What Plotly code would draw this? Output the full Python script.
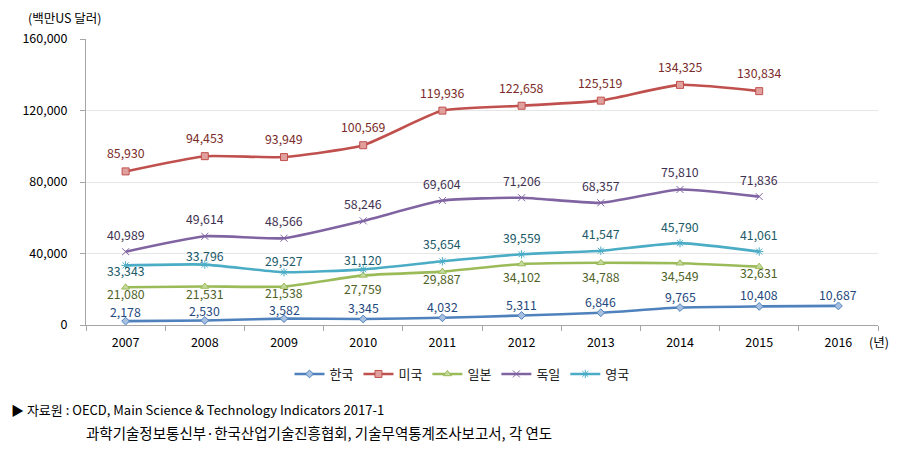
import plotly.graph_objects as go

years = ["2007", "2008", "2009", "2010", "2011", "2012", "2013", "2014", "2015", "2016"]
korea = [2178, 2530, 3582, 3345, 4032, 5311, 6846, 9765, 10408, 10687]
usa = [85930, 94453, 93949, 100569, 119936, 122658, 125519, 134325, 130834, None]
japan = [21080, 21531, 21538, 27759, 29887, 34102, 34788, 34549, 32631, None]
germany = [40989, 49614, 48566, 58246, 69604, 71206, 68357, 75810, 71836, None]
uk = [33343, 33796, 29527, 31120, 35654, 39559, 41547, 45790, 41061, None]

names = ["한국", "미국", "일본", "독일", "영국"]
series = [korea, usa, japan, germany, uk]

# styles
colors = ["#4F81BD", "#C0504D", "#9BBB59", "#8064A2", "#4BACC6"]
text_colors = ["#1F497D", "#7B2C2A", "#4F6228", "#3F3151", "#215968"]
symbols = ["diamond", "square", "triangle-up", "x-thin-open", "asterisk-open"]
marker_fill = ["#A7C0E0", "#E0A09E", "#C5DA9E", "#8064A2", "#4BACC6"]
marker_size = [6, 7, 7, 7, 7]
# label vertical offsets in pixels (positive = upward)
label_shift = [
    [9, 9, 9, 11, 11, 11, 11, 11, 11, 11],
    [18] * 10,
    [-7, -7, -6, -14, -7, -13, -14, -13, -6, 0],
    [17] * 10,
    [-6, 9, 11, 9, 17, 16, 17, 16, 17, 0],
]

FONT = "Noto Sans CJK KR"
W, H = 905, 453
ML, MR, MT, MB = 86, 27, 39, 128
PL, PR, PT, PB = ML, W - MR, MT, H - MB


def px(x):
    return (x - PL) / (PR - PL)


def py(y):
    return (PB - y) / (PB - PT)


fig = go.Figure()
annotations = []
for i in range(5):
    vals = series[i]
    fig.add_trace(go.Scatter(
        x=years, y=vals, name=names[i],
        mode="lines+markers",
        line=dict(color=colors[i], width=2.6, shape="spline", smoothing=0.5),
        marker=dict(symbol=symbols[i], size=marker_size[i], color=marker_fill[i],
                    line=dict(color=colors[i], width=1)),
        cliponaxis=False,
    ))
    for j, v in enumerate(vals):
        if v is None:
            continue
        annotations.append(dict(
            x=j, y=v, xref="x", yref="y", text=f"{v:,}", showarrow=False,
            yshift=label_shift[i][j], xanchor="center", yanchor="middle",
            font=dict(family=FONT, size=12.3, color=text_colors[i]),
        ))

annotations += [
    dict(text="(백만US 달러)", x=px(26), y=py(17), xref="paper", yref="paper",
         showarrow=False, xanchor="left", yanchor="middle",
         font=dict(size=12.5, color="#000")),
    dict(text="(년)", x=px(867), y=py(341), xref="paper", yref="paper",
         showarrow=False, xanchor="left", yanchor="middle",
         font=dict(size=12.5, color="#000")),
    dict(text="▶ 자료원 : OECD, Main Science & Technology Indicators 2017-1",
         x=px(9), y=py(410), xref="paper", yref="paper",
         showarrow=False, xanchor="left", yanchor="middle",
         font=dict(size=13, color="#000")),
    dict(text="과학기술정보통신부·한국산업기술진흥협회, 기술무역통계조사보고서, 각 연도",
         x=px(84), y=py(433), xref="paper", yref="paper",
         showarrow=False, xanchor="left", yanchor="middle",
         font=dict(size=14.5, color="#000")),
]

fig.update_layout(
    width=W, height=H,
    margin=dict(l=ML, r=MR, t=MT, b=MB),
    paper_bgcolor="white", plot_bgcolor="white",
    font=dict(family=FONT, size=12.5, color="#000000"),
    showlegend=True,
    legend=dict(orientation="h", x=px(462), xanchor="center", y=py(359), yanchor="top",
                font=dict(family=FONT, size=13, color="#222222"), itemwidth=30,
                traceorder="normal"),
    xaxis=dict(type="category", range=[-0.5, 9.5], showline=True, linecolor="#A6A6A6",
               linewidth=1, ticks="outside", tickson="boundaries", ticklen=5,
               tickcolor="#A6A6A6", showgrid=False, ticklabelstandoff=6,
               tickfont=dict(size=12.5, color="#000")),
    yaxis=dict(range=[0, 160000], tickvals=[0, 40000, 80000, 120000, 160000],
               tickformat=",d", showline=True, linecolor="#A6A6A6", linewidth=1,
               ticks="outside", ticklen=5, tickcolor="#A6A6A6", ticklabelstandoff=10,
               gridcolor="#E6E6E6", gridwidth=1, zeroline=False,
               tickfont=dict(size=12.5, color="#000")),
    annotations=annotations,
)

fig.write_html("out.html")
